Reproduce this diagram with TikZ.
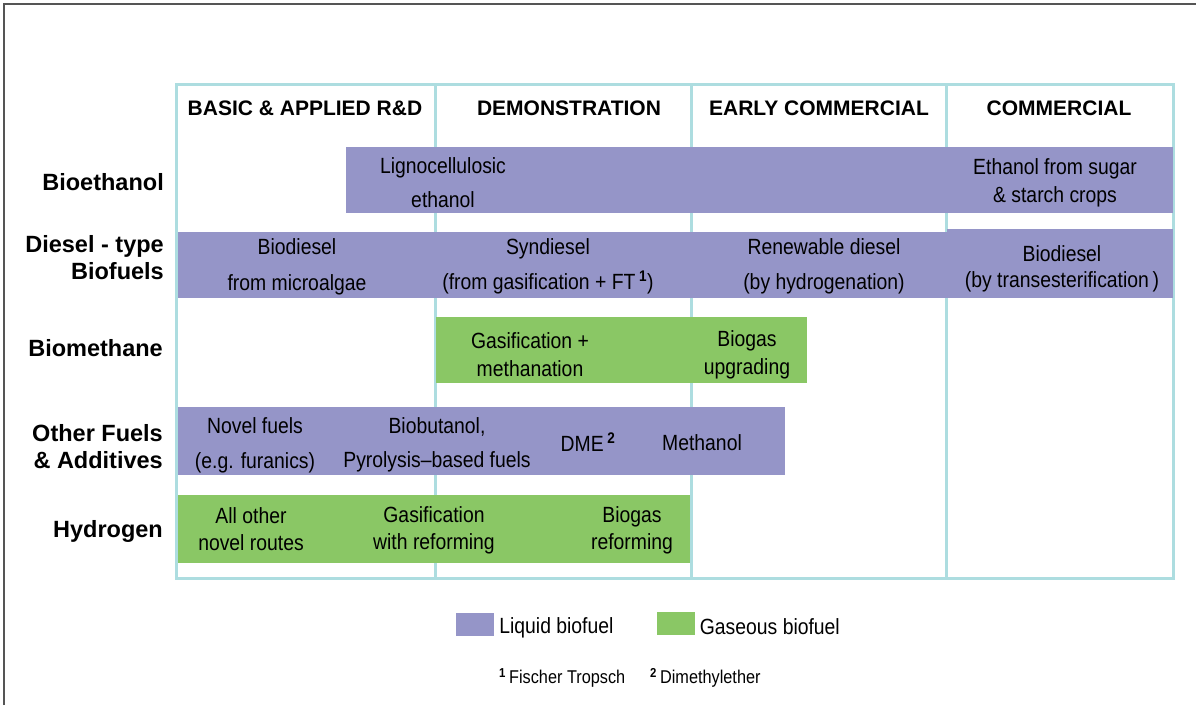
\documentclass[tikz,border=0pt]{standalone}
\usepackage{fontspec}
\setmainfont{Liberation Sans}
\newfontfamily\narrowfont{Liberation Sans}[FakeStretch=0.88,Ligatures=TeX]
\usetikzlibrary{positioning}
\definecolor{gridline}{RGB}{173,221,224}
\definecolor{liquidfill}{RGB}{149,149,200}
\definecolor{gasfill}{RGB}{138,199,101}
\definecolor{framegray}{RGB}{85,85,85}
\begin{document}
\begin{tikzpicture}[x=1pt,y=-1pt,
	grid/.style={draw=gridline,line width=3pt},
	liquid/.style={fill=liquidfill},
	gaseous/.style={fill=gasfill},
	lbl/.style={font=\narrowfont\fontsize{22}{#1}\selectfont,align=center,inner sep=0pt},
	lbl/.default=30,
	phase/.style={font=\bfseries\fontsize{21}{25}\selectfont,inner sep=0pt},
	route/.style={font=\bfseries\fontsize{23.5}{27}\selectfont,align=right,anchor=east,inner sep=0pt},
	key/.style={minimum width=38pt,minimum height=23pt,inner sep=0pt},
	foot/.style={font=\narrowfont\fontsize{18.5}{22}\selectfont,inner sep=0pt,anchor=west}]
		\useasboundingbox (0,0) rectangle (1196,705);
		\draw[framegray,line width=1.5pt] (4,705) -- (4,4) -- (1196,4);
		\draw[grid] (176,84) rectangle (1173,578);
		\foreach \x in {435,691,946}
			\draw[grid] (\x,84) -- (\x,578);
		\node[phase] (rd) at (305,108) {BASIC \& APPLIED R\&D};
		\node[phase] (demo) at (569,108) {DEMONSTRATION};
		\node[phase] (early) at (819,108) {EARLY COMMERCIAL};
		\node[phase] (comm) at (1059,108) {COMMERCIAL};
		\node[route] (etoh) at (164,182) {Bioethanol};
		\node[route] (diesel) at (164,258) {Diesel - type\\Biofuels};
		\node[route] (methane) at (163,348) {Biomethane};
		\node[route] (other) at (163,447) {Other Fuels\\\& Additives};
		\node[route] (hydro) at (163,531) {Hydrogen};
		\fill[liquid] (346,147) rectangle (1173,213);
		\fill[liquid] (178,232) rectangle (948,298);
		\fill[liquid] (947,229) rectangle (1173,298);
		\fill[gaseous] (436,317) rectangle (807,383);
		\fill[liquid] (178,407) rectangle (785,475);
		\fill[gaseous] (178,495) rectangle (690,563);
		\node[lbl=34] (ligno) at (443,183) {Lignocellulosic\\ethanol};
		\node[lbl=28] (sugar) at (1055,183) {Ethanol from sugar\\\& starch crops};
		\node[lbl=36] (algae) at (297,267) {Biodiesel\\from microalgae};
		\node[lbl=35] (syn) at (548,266) {Syndiesel\\(from gasification + FT\,\textsuperscript{\bfseries 1})};
		\node[lbl=35] (hvo) at (824,266) {Renewable diesel\\(by hydrogenation)};
		\node[lbl=26] (fame) at (1062,269) {Biodiesel\\(by transesterification\,)};
		\node[lbl=28] (gasmeth) at (530,355) {Gasification +\\methanation};
		\node[lbl=28] (upgr) at (747,355) {Biogas\\upgrading};
		\node[lbl=35] (novel) at (255,445) {Novel fuels\\(e.g. furanics)};
		\node[lbl=34] (butanol) at (437,445) {Biobutanol,\\Pyrolysis–based fuels};
		\node[lbl] (dme) at (588,442) {DME\,\textsuperscript{\bfseries 2}};
		\node[lbl] (meoh) at (702,443) {Methanol};
		\node[lbl=27] (routes) at (251,529) {All other\\novel routes};
		\node[lbl=27] (gasref) at (434,530) {Gasification\\with reforming};
		\node[lbl=27] (bioref) at (632,530) {Biogas\\reforming};
		\node[key,liquid] (liqkey) at (475,624.5) {};
		\node[lbl,right=5pt of liqkey,yshift=-3pt] (liq) {Liquid biofuel};
		\node[key,gaseous] (gaskey) at (675.5,623.5) {};
		\node[lbl,right=5pt of gaskey,yshift=-3pt] (gas) {Gaseous biofuel};
		\node[foot] (ft) at (499,678) {\textsuperscript{\bfseries 1}\,Fischer Tropsch};
		\node[foot] (dmefoot) at (650,678) {\textsuperscript{\bfseries 2}\,Dimethylether};
		\end{tikzpicture}
\end{document}
